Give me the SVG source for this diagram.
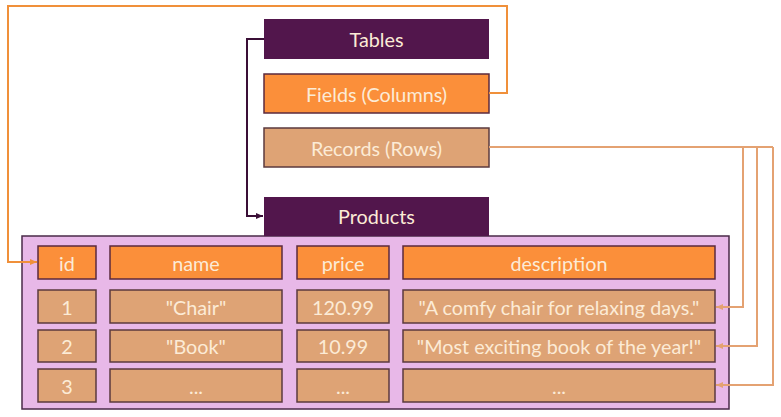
<svg xmlns="http://www.w3.org/2000/svg" width="781" height="417" viewBox="0 0 781 417">
<style>
.t{font-family:"Lato","Open Sans",sans-serif;font-size:19.8px;fill:#fcebd6;text-anchor:middle;dominant-baseline:central}
.dark{fill:#52164c}
.hd{fill:#fb8f3a;stroke:#5b2a3e;stroke-width:1.5}
.rec{fill:#dea375;stroke:#5b3a3e;stroke-width:1.5}
</style>
<defs>
<marker id="ad" markerWidth="8" markerHeight="8" refX="7" refY="4" orient="auto" markerUnits="userSpaceOnUse"><path d="M0,1 L7,4 L0,7 z" fill="#3a0f36"/></marker>
<marker id="ao" markerWidth="8" markerHeight="8" refX="7" refY="4" orient="auto" markerUnits="userSpaceOnUse"><path d="M0,1 L7,4 L0,7 z" fill="#f0903a"/></marker>
<marker id="at" markerWidth="8" markerHeight="8" refX="7" refY="4" orient="auto" markerUnits="userSpaceOnUse"><path d="M0,1 L7,4 L0,7 z" fill="#e4a272"/></marker>
</defs>
<rect width="781" height="417" fill="#ffffff"/>
<g id="container"><rect x="22" y="236" width="707" height="173" fill="#e8b8e8" stroke="#4a2a48" stroke-width="1.5"/></g>
<g id="tables"><rect class="dark" x="264" y="19" width="225" height="40"/><text class="t" x="376.5" y="39">Tables</text></g>
<g id="fields"><rect class="hd" x="264" y="74" width="225" height="39"/><text class="t" x="376.5" y="93.5">Fields (Columns)</text></g>
<g id="records"><rect class="rec" x="264" y="128" width="225" height="39"/><text class="t" x="376.5" y="147.5">Records (Rows)</text></g>
<g id="products"><rect class="dark" x="264" y="197" width="225" height="39"/><text class="t" x="376.5" y="216">Products</text></g>
<g id="header">
<rect class="hd" x="38" y="246" width="58" height="33"/><text class="t" x="67" y="262.5">id</text>
<rect class="hd" x="110" y="246" width="172" height="33"/><text class="t" x="196" y="262.5">name</text>
<rect class="hd" x="297" y="246" width="92" height="33"/><text class="t" x="343" y="262.5">price</text>
<rect class="hd" x="403" y="246" width="312" height="33"/><text class="t" x="559" y="262.5">description</text>
</g>
<g id="row1">
<rect class="rec" x="38" y="290" width="58" height="33"/><text class="t" x="67" y="306.5">1</text>
<rect class="rec" x="110" y="290" width="172" height="33"/><text class="t" x="196" y="306.5">"Chair"</text>
<rect class="rec" x="297" y="290" width="92" height="33"/><text class="t" x="343" y="306.5">120.99</text>
<rect class="rec" x="403" y="290" width="312" height="33"/><text class="t" x="559" y="306.5">"A comfy chair for relaxing days."</text>
</g>
<g id="row2">
<rect class="rec" x="38" y="330" width="58" height="32"/><text class="t" x="67" y="346">2</text>
<rect class="rec" x="110" y="330" width="172" height="32"/><text class="t" x="196" y="346">"Book"</text>
<rect class="rec" x="297" y="330" width="92" height="32"/><text class="t" x="343" y="346">10.99</text>
<rect class="rec" x="403" y="330" width="312" height="32"/><text class="t" x="559" y="346">"Most exciting book of the year!"</text>
</g>
<g id="row3">
<rect class="rec" x="38" y="369" width="58" height="33"/><text class="t" x="67" y="385.5">3</text>
<rect class="rec" x="110" y="369" width="172" height="33"/><text class="t" x="196" y="385.5">...</text>
<rect class="rec" x="297" y="369" width="92" height="33"/><text class="t" x="343" y="385.5">...</text>
<rect class="rec" x="403" y="369" width="312" height="33"/><text class="t" x="559" y="385.5">...</text>
</g>
<g id="connectors" fill="none">
<path d="M264,39 H247 V216 H263" stroke="#3a0f36" stroke-width="2" marker-end="url(#ad)"/>
<path d="M489,93 H507 V6 H8 V262 H37" stroke="#f0903a" stroke-width="2" marker-end="url(#ao)"/>
<path d="M489,147 H773 M743,147 V307 H716" stroke="#e4a272" stroke-width="2" marker-end="url(#at)"/>
<path d="M757,147 V346 H716" stroke="#e4a272" stroke-width="2" marker-end="url(#at)"/>
<path d="M773,147 V385 H716" stroke="#e4a272" stroke-width="2" marker-end="url(#at)"/>
</g>
</svg>
